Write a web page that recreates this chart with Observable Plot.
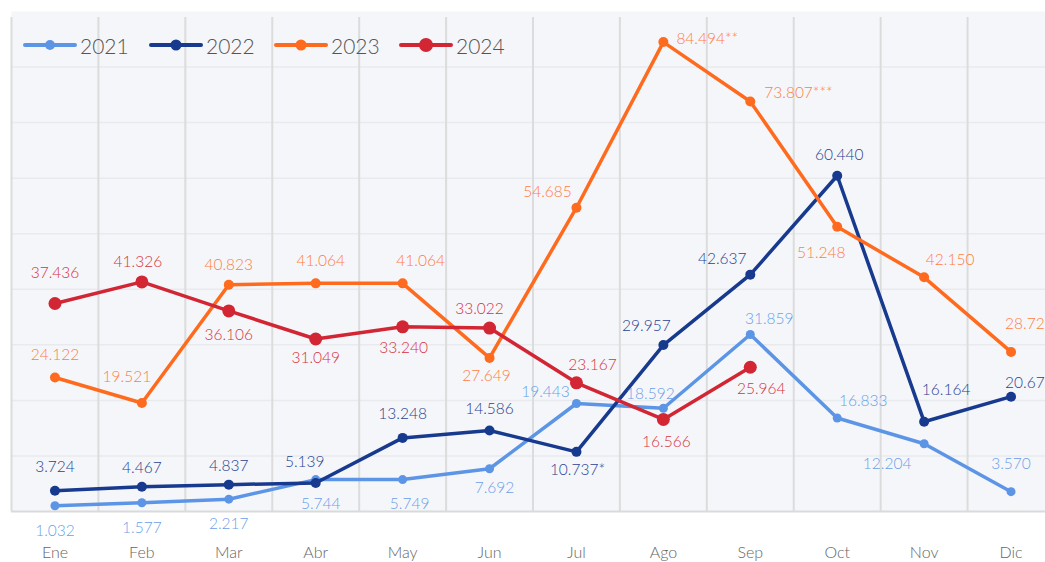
<!DOCTYPE html>
<html><head><meta charset="utf-8">
<script src="https://cdn.jsdelivr.net/npm/d3@7"></script>
<script src="https://cdn.jsdelivr.net/npm/@observablehq/plot@0.6"></script>
<style>
body{margin:0;background:#fff;font-family:Lato,"Open Sans",sans-serif}
#wrap{position:relative;width:1045px;height:562px;overflow:hidden}
.leg{position:absolute;top:33px;height:24px;display:flex;align-items:center;font-size:21px;font-weight:300;color:#555;font-family:Lato,sans-serif}
.leg span{margin-left:3px}
</style></head><body><div id="wrap"></div>
<script>
const months = ["Ene","Feb","Mar","Abr","May","Jun","Jul","Ago","Sep","Oct","Nov","Dic"];
const years = ["2021","2022","2023","2024"];

const v2021 = [1.032,1.577,2.217,5.744,5.749,7.692,19.443,18.592,31.859,16.833,12.204,3.570];
const v2022 = [3.724,4.467,4.837,5.139,13.248,14.586,10.737,29.957,42.637,60.440,16.164,20.67];
const v2023 = [24.122,19.521,40.823,41.064,41.064,27.649,54.685,84.494,73.807,51.248,42.150,28.72];
const v2024 = [37.436,41.326,36.106,31.049,33.240,33.022,23.167,16.566,25.964];

const l2021 = ["1.032","1.577","2.217","5.744","5.749","7.692","19.443","18.592","31.859","16.833","12.204","3.570"];
const l2022 = ["3.724","4.467","4.837","5.139","13.248","14.586","10.737*","29.957","42.637","60.440","16.164","20.67"];
const l2023 = ["24.122","19.521","40.823","41.064","41.064","27.649","54.685","84.494**","73.807***","51.248","42.150","28.72"];
const l2024 = ["37.436","41.326","36.106","31.049","33.240","33.022","23.167","16.566","25.964"];

// label placement (style): [dx, dy, anchor]
const p2021 = [[0,25],[0,25],[0,25],[5,24],[7,24],[5,19],[-31,-11],[-13,-14],[19,-15],[26,-17],[-37,20],[0,-28]];
const p2022 = [[0,-24],[0,-19],[0,-19],[-11,-21],[0,-24],[0,-21],[1,18],[-17,-19],[-28,-16],[2,-21],[22,-32],[-6,-14,"start"]];
const p2023 = [[0,-22],[-15,-26],[0,-20],[5,-22],[18,-22],[-3,18],[-29,-16],[13,-3,"start"],[14,-8,"start"],[-16,26],[26,-17],[-6,-28,"start"]];
const p2024 = [[0,-30],[-4,-20],[0,24],[0,19],[1,21],[-10,-19],[16,-18],[3,23],[11,22]];

const series = [
  {name:"2021", values:v2021, labels:l2021, pos:p2021, color:"#5d95e6", label:"#6a9fe8", r:4.5},
  {name:"2022", values:v2022, labels:l2022, pos:p2022, color:"#173a8e", label:"#28428f", r:5},
  {name:"2023", values:v2023, labels:l2023, pos:p2023, color:"#ff6b1e", label:"#ff7d3e", r:5},
  {name:"2024", values:v2024, labels:l2024, pos:p2024, color:"#d22634", label:"#d5333e", r:6.5}
];

const rows = s => s.values.map((v,i)=>({x:i, y:v, t:s.labels[i]}));

const marks = [
  Plot.frame({fill:"#f5f6fa", stroke:"none"}),
  Plot.ruleY(d3.range(10,90,10), {stroke:"#e8eaee", strokeWidth:1.5}),
  Plot.ruleX(d3.range(13).map(i=>i-0.5), {y1:0, y2:90, stroke:"#dcdcdc", strokeWidth:2, insetBottom:-6}),
  Plot.ruleY([0], {stroke:"#dadada", strokeWidth:2}),
  Plot.axisX({ticks:d3.range(12), tickFormat:i=>months[i], tickSize:0, tickPadding:35, fontSize:16, fill:"#666", label:null, fontWeight:300}),
];
for (const s of series) {
  marks.push(Plot.line(rows(s), {x:"x", y:"y", stroke:s.color, strokeWidth:3.5, strokeLinejoin:"round"}));
  marks.push(Plot.dot(rows(s), {x:"x", y:"y", fill:s.color, r:s.r, stroke:"none"}));
}
for (const s of series) {
  rows(s).forEach((d,i)=>{
    const p = s.pos[i];
    marks.push(Plot.text([d], {x:"x", y:"y", text:"t", dx:p[0], dy:p[1], textAnchor:p[2]||"middle", fill:s.label, fontSize:15.5, fontWeight:300}));
  });
}

const chart = Plot.plot({
  width:1045, height:562,
  marginTop:11, marginBottom:51, marginLeft:11, marginRight:0,
  style:{fontFamily:"Lato, sans-serif", fontSize:"15px", background:"white", overflow:"hidden", color:"#666"},
  x:{type:"linear", domain:[-0.5,11.5], range:[11,1054], axis:null},
  y:{domain:[0,90], axis:null},
  marks
});
const wrap = document.getElementById("wrap");
wrap.appendChild(chart);

const legLeft = [23,149,274,399];
series.forEach((s,k)=>{
  const d = document.createElement("div");
  d.className = "leg";
  d.style.left = legLeft[k] + "px";
  d.innerHTML = `<svg width="54" height="14"><line x1="2" x2="52" y1="7" y2="7" stroke="${s.color}" stroke-width="4" stroke-linecap="round"/><circle cx="27" cy="7" r="${s.r+0.5}" fill="${s.color}"/></svg><span>${s.name}</span>`;
  wrap.appendChild(d);
});
</script></body></html>
